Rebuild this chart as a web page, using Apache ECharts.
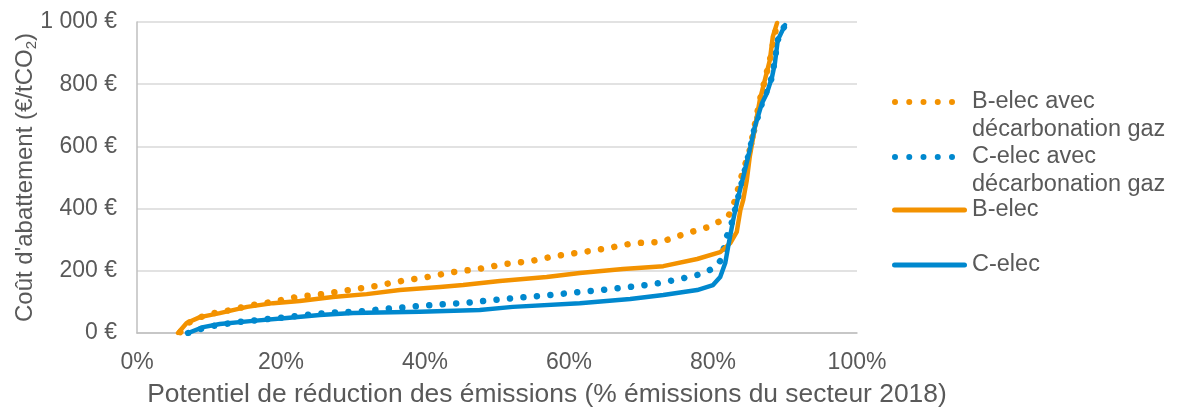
<!DOCTYPE html>
<html>
<head>
<meta charset="utf-8">
<script src="https://cdn.jsdelivr.net/npm/echarts@6/dist/echarts.min.js"></script>
<style>
html,body{margin:0;padding:0;background:#fff;}
#chart{width:1180px;height:412px;}
</style>
</head>
<body>
<div id="chart"></div>
<script>
// Series names (legend order)
const seriesNames = ['B-elec avec\ndécarbonation gaz', 'C-elec avec\ndécarbonation gaz', 'B-elec', 'C-elec'];

// x ticks (%) and y ticks (€/tCO2)
const xTicks = [0, 20, 40, 60, 80, 100];
const yTicks = [0, 200, 400, 600, 800, 1000];

// B-elec avec décarbonation gaz (orange dotted)
const bGazX = [6.0, 7.1, 8.5, 10.0, 11.8, 13.6, 15.3, 18.8, 22.2, 25.8, 29.4, 33.1, 36.7, 40.3, 43.9, 47.5, 51.1, 54.7, 58.2, 61.9, 65.4, 69.0, 72.8, 76.0, 79.4, 82.1, 83.1, 83.8, 85.1, 86.5, 87.9, 88.9];
const bGazY = [3, 32, 48, 61, 68, 77, 87, 100, 116, 125, 138, 151, 167, 180, 196, 206, 222, 231, 248, 260, 273, 289, 293, 318, 341, 373, 428, 492, 588, 749, 878, 997];

// C-elec avec décarbonation gaz (blue dotted)
const cGazX = [7.1, 9.0, 10.7, 12.5, 14.3, 16.1, 19.9, 23.6, 27.2, 30.8, 34.7, 38.3, 42.1, 45.8, 49.4, 53.2, 56.9, 60.7, 64.4, 68.0, 71.7, 75.3, 78.6, 80.0, 81.1, 81.9, 82.6, 83.3, 84.2, 85.1, 85.8, 86.8, 88.2, 89.0, 90.0];
const cGazY = [0, 14, 23, 30, 36, 40, 49, 58, 66, 69, 78, 85, 92, 97, 106, 114, 121, 130, 138, 147, 157, 173, 191, 208, 234, 309, 354, 418, 502, 588, 662, 739, 823, 942, 990];

// B-elec (orange solid)
const bX = [5.7, 6.9, 8.75, 11.5, 15.3, 18.9, 22.6, 27.2, 31.9, 36.5, 42.1, 45.3, 50.4, 56.9, 61.5, 67.5, 73.1, 77.8, 81.0, 82.4, 83.3, 83.8, 84.2, 84.7, 85.1, 86.5, 87.9, 88.3, 88.9];
const bY = [0, 32, 51, 64, 84, 96, 103, 116, 125, 138, 148, 154, 167, 180, 193, 206, 215, 238, 260, 289, 325, 395, 428, 492, 566, 749, 878, 952, 997];

// C-elec (blue solid)
const cX = [7.1, 9.2, 11.5, 16.1, 20.8, 25.4, 30.0, 39.3, 47.6, 52.2, 61.5, 68.5, 73.1, 77.8, 80.0, 81.0, 81.7, 82.1, 82.8, 83.5, 84.2, 85.1, 85.8, 86.8, 87.5, 88.2, 88.6, 89.0, 90.0];
const cY = [0, 19, 29, 39, 48, 58, 64, 68, 74, 84, 96, 109, 122, 138, 154, 180, 225, 277, 363, 437, 502, 588, 662, 739, 772, 823, 868, 942, 990];

const ORANGE = '#F39200';
const BLUE = '#0088CE';
const TXT = '#595959';
const FONT = 'Liberation Sans, Arial, sans-serif';

function pairs(xs, ys) { return xs.map((x, i) => [x, ys[i]]); }

const dotStyle = (c) => ({ color: c, width: 6.5, type: [0.01, 13.5], cap: 'round' });
const solidStyle = (c) => ({ color: c, width: 4.5, type: 'solid', cap: 'round', join: 'round' });

// legend icons: five round dots (plus an invisible move to widen the box), or a bar
const DOT_ICON = 'path://M0,3a3,3 0 1,0 6,0a3,3 0 1,0 -6,0z' +
  'M14.25,3a3,3 0 1,0 6,0a3,3 0 1,0 -6,0z' +
  'M28.5,3a3,3 0 1,0 6,0a3,3 0 1,0 -6,0z' +
  'M42.75,3a3,3 0 1,0 6,0a3,3 0 1,0 -6,0z' +
  'M57,3a3,3 0 1,0 6,0a3,3 0 1,0 -6,0zM75,0M75,6';
const BAR_ICON = 'path://M2.5,0L72.5,0A2.5,2.5 0 0,1 72.5,5L2.5,5A2.5,2.5 0 0,1 2.5,0z';

const chart = echarts.init(document.getElementById('chart'), null, { renderer: 'canvas' });

function legendFor(name, top, dotted) {
  return {
    data: [{ name: name, icon: dotted ? DOT_ICON : BAR_ICON }],
    left: 892,
    top: top,
    orient: 'vertical',
    padding: 0,
    itemWidth: 75,
    itemHeight: dotted ? 6 : 5,
    itemGap: 0,
    itemStyle: { borderWidth: 0 },
    formatter: dotted ? (n) => '\n' + n : (n) => n,
    textStyle: { fontSize: 23.5, color: TXT, fontFamily: FONT, lineHeight: 28 },
    selectedMode: false
  };
}

chart.setOption({
  animation: false,
  backgroundColor: '#fff',
  grid: { left: 137, right: 323, top: 22, bottom: 79, containLabel: false, outerBoundsMode: 'none' },
  legend: [
    legendFor(seriesNames[0], 102 - 42, true),
    legendFor(seriesNames[1], 157 - 42, true),
    legendFor(seriesNames[2], 210 - 14, false),
    legendFor(seriesNames[3], 265 - 14, false)
  ],
  xAxis: {
    type: 'value',
    min: xTicks[0],
    max: xTicks[xTicks.length - 1],
    interval: xTicks[1] - xTicks[0],
    name: 'Potentiel de réduction des émissions (% émissions du secteur 2018)',
    nameLocation: 'middle',
    nameGap: 49,
    nameMoveOverlap: false,
    nameTextStyle: { fontSize: 26.4, color: TXT, fontFamily: FONT, padding: [0, 0, 0, 100] },
    axisLine: { show: true, lineStyle: { color: '#bfbfbf', width: 1.5 } },
    axisTick: { show: false },
    splitLine: { show: false },
    axisLabel: { formatter: '{value}%', fontSize: 23, color: TXT, margin: 18, fontFamily: FONT }
  },
  yAxis: {
    type: 'value',
    min: yTicks[0],
    max: yTicks[yTicks.length - 1],
    interval: yTicks[1] - yTicks[0],
    name: "Coût d'abattement (€/tCO{s|2})",
    nameLocation: 'middle',
    nameGap: 98,
    nameRotate: 90,
    nameMoveOverlap: false,
    nameTextStyle: {
      fontSize: 24, color: TXT, fontFamily: FONT, lineHeight: 28,
      rich: { s: { fontSize: 15, color: TXT, lineHeight: 14, verticalAlign: 'bottom', fontFamily: FONT } }
    },
    axisLine: { show: true, lineStyle: { color: '#bfbfbf', width: 1.5 } },
    axisTick: { show: false },
    splitLine: { show: true, lineStyle: { color: '#d9d9d9', width: 1.5 } },
    axisLabel: {
      fontSize: 23, color: TXT, margin: 20, fontFamily: FONT,
      formatter: (v) => String(v).replace(/\B(?=(\d{3})+(?!\d))/g, ' ') + ' €'
    }
  },
  series: [
    { name: seriesNames[0], type: 'line', data: pairs(bGazX, bGazY), showSymbol: false, symbol: 'none', lineStyle: dotStyle(ORANGE), itemStyle: { color: ORANGE }, z: 2 },
    { name: seriesNames[1], type: 'line', data: pairs(cGazX, cGazY), showSymbol: false, symbol: 'none', lineStyle: dotStyle(BLUE), itemStyle: { color: BLUE }, z: 2 },
    { name: seriesNames[2], type: 'line', data: pairs(bX, bY), showSymbol: false, symbol: 'none', lineStyle: solidStyle(ORANGE), itemStyle: { color: ORANGE }, z: 3 },
    { name: seriesNames[3], type: 'line', data: pairs(cX, cY), showSymbol: false, symbol: 'none', lineStyle: solidStyle(BLUE), itemStyle: { color: BLUE }, z: 3 }
  ]
});
</script>
</body>
</html>
